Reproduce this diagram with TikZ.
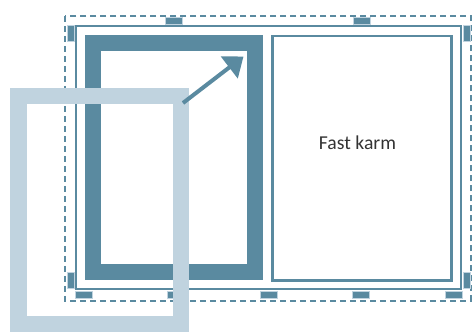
\documentclass[tikz,border=0pt]{standalone}
\usepackage{fontspec}
\setmainfont{Carlito}
\usepackage{xcolor}
\usetikzlibrary{arrows.meta}
\definecolor{darkblue}{HTML}{5A8AA0}
\definecolor{lightblue}{HTML}{C0D3DF}

\begin{document}
\begin{tikzpicture}[x=0.02cm,y=-0.02cm]
    \useasboundingbox (0,0) rectangle (472,331);
    \tikzset{handle/.style={fill=darkblue,draw=lightblue,line width=0.01cm}}

    \draw[darkblue,line width=0.04cm,dash pattern=on 0.12cm off 0.08cm] (65,16) rectangle (471,300.5);
    \draw[darkblue,line width=0.04cm] (76,26) rectangle (461,289);

    \foreach \x in {174,362}
        \draw[handle] (\x-8.5,17) rectangle (\x+8.5,24);
    \foreach \x in {83.5,176,268.5,361,453.7}
        \draw[handle] (\x-8.5,291.5) rectangle (\x+8.5,298.5);
    \foreach \y in {33,280.5}
    {
        \draw[handle] (67,\y-8) rectangle (74,\y+8);
        \draw[handle] (463,\y-8) rectangle (470,\y+8);
    }

    \draw[darkblue,line width=0.32cm] (92.5,43) rectangle (255,272.3);
    \draw[darkblue,line width=0.05cm] (272.5,36) rectangle (451.7,280.5);
    \node[text=black!80,font=\fontsize{11.2}{13}\selectfont] (label) at (357.5,143) {Fast karm};

    \draw[lightblue,line width=0.33cm] (18.3,96.2) rectangle (181,324);

    \coordinate (tail) at (183,103);
    \coordinate (tip) at (243.5,56.5);
    \draw[darkblue,line width=0.08cm,-{Triangle[length=0.36cm,width=0.54cm]}] (tail) -- (tip);
\end{tikzpicture}
\end{document}
